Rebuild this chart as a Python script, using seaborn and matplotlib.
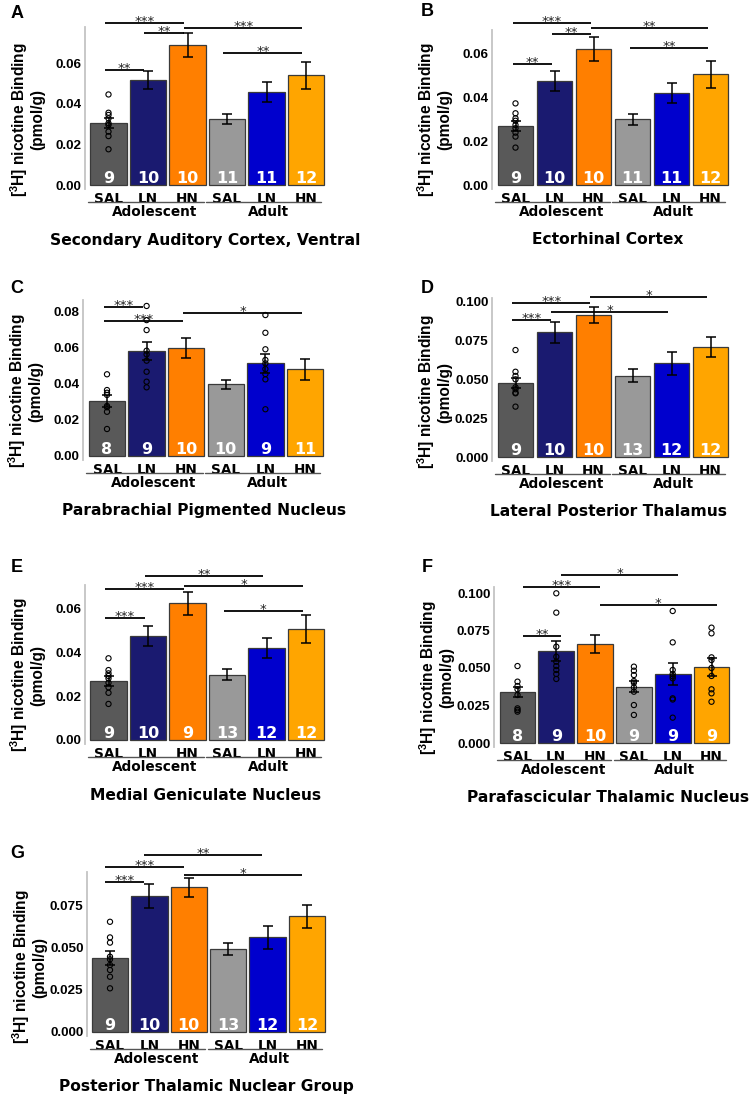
import matplotlib
matplotlib.use("Agg")
import matplotlib.pyplot as plt
import matplotlib.transforms as mtransforms
from matplotlib.ticker import FormatStrFormatter
import seaborn as sns
import pandas as pd

sns.set_style("white")
plt.rcParams["font.family"] = ["DejaVu Sans"]
plt.rcParams["mathtext.fontset"] = "custom"
plt.rcParams["mathtext.rm"] = "Liberation Sans"
plt.rcParams["mathtext.bf"] = "Liberation Sans:bold"
plt.rcParams["text.color"] = "black"
plt.rcParams["xtick.color"] = "black"
plt.rcParams["ytick.color"] = "black"
plt.rcParams["axes.labelcolor"] = "black"

W, H = 750, 1097
PAD = 4  # px of axis below zero

group_keys = ["Adol SAL", "Adol LN", "Adol HN", "Adult SAL", "Adult LN", "Adult HN"]
tick_labels = ["SAL", "LN", "HN", "SAL", "LN", "HN"]
bar_colors = ["#595959", "#1a1a70", "#ff7f00", "#999999", "#0000cd", "#ffa500"]
age_labels = ["Adolescent", "Adult"]
ylabel = "[$^{\\mathbf{3}}$H] nicotine Binding\n(pmol/g)"

# ---- A
a_title = "Secondary Auditory Cortex, Ventral"
a_mean = [0.0307, 0.0517, 0.0690, 0.0325, 0.0457, 0.0540]
a_sem = [0.0025, 0.0043, 0.0057, 0.0023, 0.0050, 0.0065]
a_n = [9, 10, 10, 11, 11, 12]
a_points = {0: [0.0446, 0.0356, 0.0345, 0.0328, 0.0304, 0.0296, 0.0263, 0.0241, 0.0176]}
a_sig = [(0, 2, "***", 0.0798), (1, 2, "**", 0.0749), (2, 5, "***", 0.0773),
         (0, 1, "**", 0.0567), (3, 5, "**", 0.0650)]
a_ticks = [0, 0.02, 0.04, 0.06]

# ---- B
b_title = "Ectorhinal Cortex"
b_mean = [0.0270, 0.0474, 0.0618, 0.0299, 0.0417, 0.0503]
b_sem = [0.0023, 0.0046, 0.0053, 0.0024, 0.0045, 0.0061]
b_n = [9, 10, 10, 11, 11, 12]
b_points = {0: [0.0371, 0.0326, 0.0303, 0.0292, 0.0273, 0.0258, 0.0238, 0.0220, 0.0170]}
b_sig = [(0, 2, "***", 0.0738), (1, 2, "**", 0.0686), (2, 5, "**", 0.0712),
         (0, 1, "**", 0.0549), (3, 5, "**", 0.0621)]
b_ticks = [0, 0.02, 0.04, 0.06]

# ---- C
c_title = "Parabrachial Pigmented Nucleus"
c_mean = [0.0303, 0.0579, 0.0594, 0.0395, 0.0511, 0.0478]
c_sem = [0.0031, 0.0051, 0.0055, 0.0023, 0.0051, 0.0059]
c_n = [8, 9, 10, 10, 9, 11]
c_points = {
    0: [0.0451, 0.0364, 0.0349, 0.0337, 0.0276, 0.0269, 0.0244, 0.0149],
    1: [0.0828, 0.0750, 0.0695, 0.0581, 0.0561, 0.0526, 0.0465, 0.0410, 0.0379],
    4: [0.0778, 0.0680, 0.0589, 0.0530, 0.0511, 0.0480, 0.0452, 0.0423, 0.0258],
}
c_sig = [(0, 1, "***", 0.0820), (0, 2, "***", 0.0747), (2, 5, "*", 0.0787)]
c_ticks = [0, 0.02, 0.04, 0.06, 0.08]

# ---- D
d_title = "Lateral Posterior Thalamus"
d_mean = [0.0475, 0.0804, 0.0916, 0.0525, 0.0604, 0.0708]
d_sem = [0.0032, 0.0068, 0.0054, 0.0040, 0.0073, 0.0065]
d_n = [9, 10, 10, 13, 12, 12]
d_points = {0: [0.0690, 0.0550, 0.0523, 0.0501, 0.0450, 0.0437, 0.0415, 0.0411, 0.0325]}
d_sig = [(0, 2, "***", 0.0992), (0, 1, "***", 0.0884), (1, 4, "*", 0.0938), (2, 5, "*", 0.1030)]
d_ticks = [0, 0.025, 0.05, 0.075, 0.1]

# ---- E
e_title = "Medial Geniculate Nucleus"
e_mean = [0.0271, 0.0477, 0.0626, 0.0299, 0.0420, 0.0508]
e_sem = [0.0023, 0.0047, 0.0053, 0.0024, 0.0046, 0.0063]
e_n = [9, 10, 9, 13, 12, 12]
e_points = {0: [0.0374, 0.0320, 0.0305, 0.0293, 0.0282, 0.0262, 0.0241, 0.0216, 0.0165]}
e_sig = [(1, 4, "**", 0.0751), (0, 2, "***", 0.0691), (2, 5, "*", 0.0705),
         (0, 1, "***", 0.0560), (3, 5, "*", 0.0590)]
e_ticks = [0, 0.02, 0.04, 0.06]

# ---- F
f_title = "Parafascicular Thalamic Nucleus"
f_mean = [0.0338, 0.0613, 0.0658, 0.0376, 0.0462, 0.0507]
f_sem = [0.0033, 0.0064, 0.0059, 0.0039, 0.0073, 0.0061]
f_n = [8, 9, 10, 9, 9, 9]
f_points = {
    0: [0.0513, 0.0409, 0.0380, 0.0358, 0.0320, 0.0231, 0.0220, 0.0209],
    1: [0.0998, 0.0869, 0.0642, 0.0575, 0.0542, 0.0513, 0.0487, 0.0460, 0.0427],
    3: [0.0509, 0.0482, 0.0453, 0.0413, 0.0402, 0.0371, 0.0342, 0.0253, 0.0187],
    4: [0.0880, 0.0671, 0.0487, 0.0460, 0.0445, 0.0431, 0.0298, 0.0290, 0.0169],
    5: [0.0769, 0.0731, 0.0571, 0.0553, 0.0500, 0.0447, 0.0358, 0.0331, 0.0275],
}
f_sig = [(1, 4, "*", 0.1120), (0, 2, "***", 0.1038), (2, 5, "*", 0.0920), (0, 1, "**", 0.0713)]
f_ticks = [0, 0.025, 0.05, 0.075, 0.1]

# ---- G
g_title = "Posterior Thalamic Nuclear Group"
g_mean = [0.0439, 0.0810, 0.0861, 0.0494, 0.0563, 0.0690]
g_sem = [0.0042, 0.0071, 0.0057, 0.0037, 0.0068, 0.0068]
g_n = [9, 10, 10, 13, 12, 12]
g_points = {0: [0.0656, 0.0563, 0.0532, 0.0448, 0.0433, 0.0399, 0.0369, 0.0329, 0.0260]}
g_sig = [(1, 4, "**", 0.1054), (0, 2, "***", 0.0984), (0, 1, "***", 0.0891), (2, 5, "*", 0.0935)]
g_ticks = [0, 0.025, 0.05, 0.075]

# layout in pixels: y-axis x, first bar centre, bar step, zero line, px per unit, axis top
layout = {
    "A": dict(left=85, c0=108.5, step=39.5, zero=185, ppu=2030, top=27, shift=-0.09, lx=17, ly=14),
    "B": dict(left=492, c0=515.5, step=39.0, zero=185, ppu=2200, top=30, shift=-0.06, lx=427, ly=11),
    "C": dict(left=83, c0=107.0, step=39.6, zero=456, ppu=1812, top=300, shift=-0.08, lx=17, ly=288),
    "D": dict(left=492, c0=515.5, step=39.0, zero=457, ppu=1550, top=298, shift=-0.08, lx=427, ly=288),
    "E": dict(left=85, c0=108.5, step=39.5, zero=740, ppu=2185, top=585, shift=-0.08, lx=17, ly=568),
    "F": dict(left=494, c0=517.5, step=38.8, zero=743, ppu=1500, top=587, shift=0.13, lx=427, ly=568),
    "G": dict(left=87, c0=110.0, step=39.4, zero=1032, ppu=1680, top=872, shift=-0.13, lx=17, ly=853),
}

fig = plt.figure(figsize=(W / 100, H / 100), dpi=100)


def draw_panel(letter, title, mean, sem, n, points, sig, ticks, fmt):
    lay = layout[letter]
    s = lay["step"]
    x_left = (lay["left"] - lay["c0"]) / s
    x_right = 5.5
    width_px = (x_right - x_left) * s
    bottom_px = lay["zero"] + PAD
    ax_h = bottom_px - lay["top"]
    ax = fig.add_axes([lay["left"] / W, 1 - bottom_px / H, width_px / W, ax_h / H])

    df = pd.DataFrame({"group": group_keys, "value": mean})
    sns.barplot(data=df, x="group", y="value", hue="group", order=group_keys,
                hue_order=group_keys, palette=bar_colors, saturation=1, width=0.92,
                errorbar=None, edgecolor="#3a3a3a", linewidth=0.9, legend=False, ax=ax)
    ax.errorbar(range(6), mean, yerr=sem, fmt="none", ecolor="black",
                elinewidth=1.1, capsize=3.5, capthick=1.1, zorder=4)
    for i, vals in points.items():
        ax.scatter([i] * len(vals), vals, s=14, facecolors="none", edgecolors="black",
                   linewidths=0.8, zorder=5)

    ax.set_xlim(x_left, x_right)
    ax.set_ylim(-PAD / lay["ppu"], (lay["zero"] - lay["top"]) / lay["ppu"])
    ax.set_xlabel("")
    ax.set_ylabel("")
    ax.set_yticks(ticks)
    ax.yaxis.set_major_formatter(FormatStrFormatter(fmt))
    ax.set_xticks(range(6))
    ax.set_xticklabels(tick_labels, fontsize=9.8, fontweight="bold", family="DejaVu Sans")
    ax.tick_params(axis="x", length=0, pad=2)
    ax.tick_params(axis="y", length=2, width=1, color="#666666", pad=0.5)
    for lab in ax.get_yticklabels():
        lab.set_fontfamily("Liberation Sans")
        lab.set_fontweight("bold")
        lab.set_fontsize(9.7)
    for side in ["top", "right", "bottom"]:
        ax.spines[side].set_visible(False)
    ax.spines["left"].set_color("#c4c4c4")
    ax.spines["left"].set_linewidth(1.3)

    for i in range(6):
        ax.annotate(str(n[i]), xy=(i, 0), xytext=(0, 2), textcoords="offset pixels",
                    ha="center", va="baseline", color="white", fontsize=11.5,
                    fontweight="bold")

    trans = mtransforms.blended_transform_factory(ax.transData, ax.transAxes)
    yl = -13 / ax_h
    ax.plot([-0.52, 2.42], [yl, yl], transform=trans, color="#555555", lw=1, clip_on=False)
    ax.plot([2.48, 5.38], [yl, yl], transform=trans, color="#555555", lw=1, clip_on=False)
    for xc, lab in zip([1.18, 4.05], age_labels):
        ax.text(xc, -16 / ax_h, lab, transform=trans, ha="center", va="top",
                fontsize=9.8, fontweight="bold")

    dx = lay["shift"]
    for i, j, lab, y in sig:
        ax.plot([i + dx, j + dx], [y, y], color="black", lw=1.3, clip_on=False,
                solid_capstyle="butt")
        ax.annotate(lab, xy=((i + j) / 2 + dx, y), xytext=(0, -2), textcoords="offset pixels",
                    ha="center", va="baseline", fontsize=9.5, color="#222222",
                    annotation_clip=False)

    cx = lay["left"] + width_px / 2
    fig.text(min(cx, 608) / W, 1 - (lay["zero"] + 55) / H, title, ha="center", va="center",
             fontsize=11.2, fontweight="bold")
    fig.text((lay["left"] - 58) / W, 1 - (lay["zero"] - 65) / H, ylabel, rotation=90,
             ha="center", va="center", multialignment="center", linespacing=1.05,
             fontsize=11.2, fontweight="bold", family="Liberation Sans")
    fig.text(lay["lx"] / W, 1 - lay["ly"] / H, letter, ha="center", va="center",
             fontsize=13, fontweight="bold", family="Liberation Sans")


draw_panel("A", a_title, a_mean, a_sem, a_n, a_points, a_sig, a_ticks, "%.2f")
draw_panel("B", b_title, b_mean, b_sem, b_n, b_points, b_sig, b_ticks, "%.2f")
draw_panel("C", c_title, c_mean, c_sem, c_n, c_points, c_sig, c_ticks, "%.2f")
draw_panel("D", d_title, d_mean, d_sem, d_n, d_points, d_sig, d_ticks, "%.3f")
draw_panel("E", e_title, e_mean, e_sem, e_n, e_points, e_sig, e_ticks, "%.2f")
draw_panel("F", f_title, f_mean, f_sem, f_n, f_points, f_sig, f_ticks, "%.3f")
draw_panel("G", g_title, g_mean, g_sem, g_n, g_points, g_sig, g_ticks, "%.3f")

fig.savefig("out.png", dpi=100, facecolor="white")
